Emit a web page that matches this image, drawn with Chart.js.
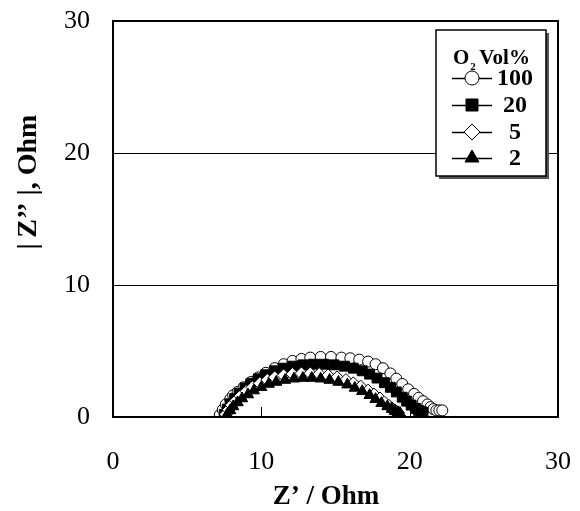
<!DOCTYPE html>
<html>
<head>
<meta charset="utf-8">
<script src="https://cdn.jsdelivr.net/npm/chart.js@4/dist/chart.umd.min.js"></script>
<style>
  html, body { margin: 0; padding: 0; background: #fff; }
  #wrap { width: 580px; height: 511px; }
</style>
</head>
<body>
<div id="wrap"><canvas id="c" width="580" height="511"></canvas></div>
<script>
// ---- Data ----
const seriesLabels = ['100', '20', '5', '2'];
const xTickValues = [0, 10, 20, 30];
const yTickValues = [0, 10, 20, 30];

const o2_100_x = [7.2, 7.4, 7.6, 7.9, 8.1, 8.4, 8.8, 9.3, 9.8, 10.3, 10.9, 11.5, 12.1, 12.7, 13.3, 14.0, 14.7, 15.4, 16.0, 16.6, 17.2, 17.7, 18.2, 18.7, 19.1, 19.5, 19.9, 20.3, 20.6, 20.9, 21.2, 21.4, 21.6, 21.8, 22.0, 22.2];
const o2_100_y = [0.15, 0.55, 0.95, 1.35, 1.65, 1.9, 2.25, 2.65, 3.0, 3.35, 3.7, 4.0, 4.25, 4.4, 4.5, 4.55, 4.55, 4.5, 4.45, 4.35, 4.2, 4.0, 3.7, 3.3, 2.9, 2.5, 2.1, 1.75, 1.45, 1.2, 0.95, 0.75, 0.6, 0.5, 0.5, 0.5];

const o2_20_x = [7.5, 7.7, 7.9, 8.2, 8.5, 8.9, 9.3, 9.8, 10.3, 10.9, 11.5, 12.1, 12.8, 13.5, 14.2, 14.9, 15.6, 16.2, 16.8, 17.3, 17.8, 18.3, 18.7, 19.1, 19.5, 19.8, 20.1, 20.4, 20.6, 20.8, 20.9];
const o2_20_y = [0.2, 0.6, 1.0, 1.4, 1.8, 2.2, 2.55, 2.9, 3.2, 3.5, 3.7, 3.85, 3.95, 4.0, 4.0, 3.95, 3.85, 3.7, 3.5, 3.25, 2.95, 2.6, 2.25, 1.9, 1.5, 1.2, 0.9, 0.65, 0.5, 0.4, 0.35];

const o2_5_x = [7.6, 7.8, 8.0, 8.3, 8.6, 9.0, 9.4, 9.9, 10.4, 10.9, 11.5, 12.1, 12.7, 13.3, 13.9, 14.5, 15.1, 15.7, 16.2, 16.7, 17.2, 17.6, 18.0, 18.3, 18.6, 18.8, 19.0, 19.1, 19.2];
const o2_5_y = [0.2, 0.55, 0.9, 1.25, 1.6, 1.95, 2.25, 2.55, 2.8, 3.0, 3.15, 3.25, 3.3, 3.3, 3.25, 3.15, 3.0, 2.8, 2.55, 2.3, 2.0, 1.7, 1.4, 1.1, 0.85, 0.65, 0.5, 0.4, 0.35];

const o2_2_x = [7.7, 7.9, 8.1, 8.4, 8.7, 9.1, 9.5, 10.0, 10.5, 11.0, 11.6, 12.2, 12.8, 13.4, 14.0, 14.6, 15.2, 15.8, 16.3, 16.8, 17.3, 17.7, 18.1, 18.5, 18.8, 19.0, 19.2, 19.35];
const o2_2_y = [0.2, 0.5, 0.8, 1.1, 1.4, 1.7, 2.0, 2.25, 2.5, 2.65, 2.8, 2.9, 2.95, 2.95, 2.9, 2.8, 2.65, 2.45, 2.2, 1.95, 1.65, 1.35, 1.05, 0.8, 0.6, 0.45, 0.35, 0.3];

function pts(xs, ys) { return xs.map((x, i) => ({ x: x, y: ys[i] })); }

const FONT = '"Liberation Serif", "Times New Roman", serif';

const styles = [
  { pointStyle: 'circle', radius: 5.5, bg: '#ffffff', border: '#000000', order: 4 },
  { pointStyle: 'rect', radius: 7, bg: '#000000', border: '#000000', order: 3 },
  { pointStyle: 'rectRot', radius: 6.5, bg: '#ffffff', border: '#000000', order: 2 },
  { pointStyle: 'triangle', radius: 6.5, bg: '#000000', border: '#000000', order: 1 }
];
const seriesData = [pts(o2_100_x, o2_100_y), pts(o2_20_x, o2_20_y), pts(o2_5_x, o2_5_y), pts(o2_2_x, o2_2_y)];

const datasets = seriesLabels.map((lab, i) => ({
  label: lab,
  data: seriesData[i],
  showLine: false,
  pointStyle: styles[i].pointStyle,
  pointRadius: styles[i].radius,
  pointBackgroundColor: styles[i].bg,
  pointBorderColor: styles[i].border,
  pointBorderWidth: 1,
  order: styles[i].order
}));

const decorPlugin = {
  id: 'decor',
  afterDraw(chart) {
    const ctx = chart.ctx;
    const a = chart.chartArea;
    const xs = chart.scales.x;
    ctx.save();
    // inner tick marks on x axis
    ctx.strokeStyle = '#000'; ctx.lineWidth = 1;
    [10, 20].forEach(v => {
      const px = Math.round(xs.getPixelForValue(v)) + 0.5;
      ctx.beginPath(); ctx.moveTo(px, a.bottom); ctx.lineTo(px, a.bottom - 10); ctx.stroke();
    });
    // frame
    ctx.strokeStyle = '#000'; ctx.lineWidth = 2;
    ctx.strokeRect(a.left, a.top, a.right - a.left, a.bottom - a.top);

    // axis titles
    ctx.fillStyle = '#000';
    ctx.font = 'bold 27px ' + FONT;
    ctx.textAlign = 'center'; ctx.textBaseline = 'middle';
    ctx.fillText('Z\u2019 / Ohm', 326, 497);
    ctx.save();
    ctx.translate(29, 182);
    ctx.rotate(-Math.PI / 2);
    ctx.font = 'bold 28px ' + FONT;
    ctx.fillText('|\u2009Z\u2019\u2019 |, Ohm', 0, 0);
    ctx.restore();

    // legend box with shadow
    const bx = 436, by = 30, bw = 110, bh = 146;
    ctx.fillStyle = '#555';
    ctx.fillRect(bx + 3, by + 3, bw, bh);
    ctx.fillStyle = '#fff';
    ctx.fillRect(bx, by, bw, bh);
    ctx.strokeStyle = '#000'; ctx.lineWidth = 1.5;
    ctx.strokeRect(bx, by, bw, bh);

    // legend title: O2 Vol%
    ctx.fillStyle = '#000';
    ctx.textAlign = 'left'; ctx.textBaseline = 'alphabetic';
    ctx.font = 'bold 21px ' + FONT;
    ctx.fillText('O', 453, 64);
    const oW = ctx.measureText('O').width;
    ctx.font = 'bold 11px ' + FONT;
    ctx.fillText('2', 453 + oW + 1, 70);
    ctx.font = 'bold 21px ' + FONT;
    ctx.fillText('Vol%', 453 + oW + 10, 64);

    // legend entries
    const rows = [78, 105, 132, 158];
    const drawPoint = (Chart.helpers && Chart.helpers.drawPoint) ? Chart.helpers.drawPoint : null;
    datasets.forEach((ds, i) => {
      const y = rows[i];
      ctx.strokeStyle = '#000'; ctx.lineWidth = 1.5;
      ctx.beginPath(); ctx.moveTo(452, y + 0.5); ctx.lineTo(492, y + 0.5); ctx.stroke();
      if (drawPoint) {
        ctx.fillStyle = ds.pointBackgroundColor;
        ctx.strokeStyle = ds.pointBorderColor;
        ctx.lineWidth = 1;
        drawPoint(ctx, { pointStyle: ds.pointStyle, rotation: 0, borderWidth: 1, radius: ds.pointRadius + 1.5 }, 472, y);
      }
      ctx.fillStyle = '#000';
      ctx.font = 'bold 24px ' + FONT;
      ctx.textAlign = 'center'; ctx.textBaseline = 'middle';
      ctx.fillText(ds.label, 515, y + 1);
    });
    ctx.restore();
  }
};

new Chart(document.getElementById('c'), {
  type: 'scatter',
  data: { datasets: datasets },
  options: {
    responsive: false,
    animation: false,
    devicePixelRatio: 1,
    layout: { padding: { left: 0, right: 22, top: 21, bottom: 0 } },
    plugins: { legend: { display: false }, tooltip: { enabled: false } },
    scales: {
      x: {
        type: 'linear', min: 0, max: 30,
        afterBuildTicks(scale) { scale.ticks = xTickValues.map(v => ({ value: v })); },
        afterFit(scale) { scale.height = 94; scale.paddingLeft = 0; scale.paddingRight = 0; },
        grid: { display: false, drawTicks: false },
        border: { display: false },
        ticks: { color: '#000', font: { family: FONT, size: 26, weight: 'normal' }, padding: 30, maxRotation: 0 }
      },
      y: {
        type: 'linear', min: 0, max: 30,
        afterBuildTicks(scale) { scale.ticks = yTickValues.map(v => ({ value: v })); },
        afterFit(scale) { scale.width = 113; scale.paddingTop = 0; scale.paddingBottom = 0; },
        grid: { color: '#000', lineWidth: 1, drawTicks: false },
        border: { display: false },
        ticks: { color: '#000', font: { family: FONT, size: 26, weight: 'normal' }, padding: 23 }
      }
    }
  },
  plugins: [decorPlugin]
});
</script>
</body>
</html>
